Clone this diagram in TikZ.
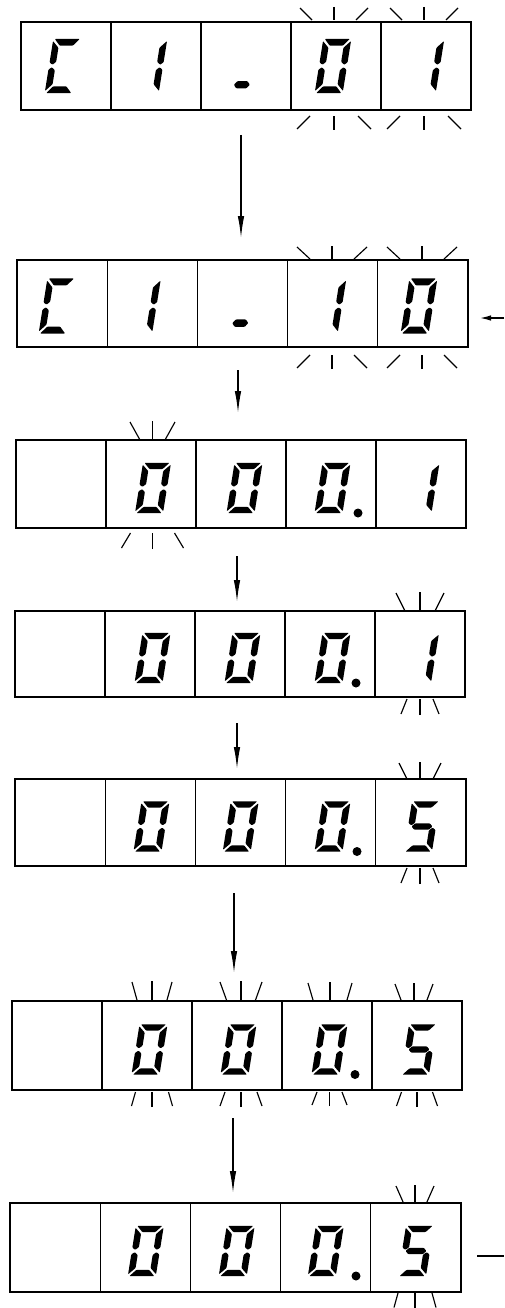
\documentclass[tikz,border=0pt]{standalone}
\usetikzlibrary{arrows.meta}

\tikzset{
  cell/.style={draw, rectangle, line width=1.2pt, inner sep=0pt, outer sep=0pt},
  segfill/.style={fill=black, rounded corners=0.8pt},
  ray/.style={line width=1.15pt},
  flow/.style={line width=1.3pt, -{Latex[length=22pt,width=6.5pt]}},
  sideflow/.style={line width=1.3pt, -{Latex[length=11pt,width=5.5pt]}},
  plainline/.style={line width=1.3pt},
}

% seven-segment pieces, drawn around the digit centre (y grows downwards)
\newcommand\segA{\fill[segfill] (-12.5,-26) -- (12.5,-26) -- (6.5,-19.5) -- (-6.5,-19.5) -- cycle;}
\newcommand\segD{\fill[segfill] (-12.5,26) -- (12.5,26) -- (6.5,19.5) -- (-6.5,19.5) -- cycle;}
\newcommand\segF{\fill[segfill] (-14,-24) -- (-7.5,-17.5) -- (-7.5,-4) -- (-10.8,-1.2) -- (-14,-3.5) -- cycle;}
\newcommand\segE{\fill[segfill] (-14,24) -- (-7.5,17.5) -- (-7.5,4) -- (-10.8,1.2) -- (-14,3.5) -- cycle;}
\newcommand\segB{\fill[segfill] (14,-24) -- (7.5,-17.5) -- (7.5,-4) -- (10.8,-1.2) -- (14,-3.5) -- cycle;}
\newcommand\segC{\fill[segfill] (14,24) -- (7.5,17.5) -- (7.5,4) -- (10.8,1.2) -- (14,3.5) -- cycle;}
\newcommand\segG{\fill[segfill] (-10.5,0) -- (-7.2,-3.3) -- (7.2,-3.3) -- (10.5,0) -- (7.2,3.3) -- (-7.2,3.3) -- cycle;}
\newcommand\segDash{\fill[segfill] (-8,19) -- (-5,15.5) -- (5,15.5) -- (8,19) -- (5,22.5) -- (-5,22.5) -- cycle;}

\newcommand\digZero{\segA\segB\segC\segD\segE\segF}
\newcommand\digOne{\segB\segC}
\newcommand\digFive{\segA\segF\segG\segC\segD}
\newcommand\digCee{\segA\segF\segE\segD}

% italic LCD character: [height scale]{x}{y}{segments}
\newcommand\lcd[4][1]{\begin{scope}[shift={(#2,#3)},xslant=0.16,yscale=#1]#4\end{scope}}

% blink marks: centre x, box edge y, outer dx, inner dx, length, gap
\newcommand\raysup[6]{%
  \draw[ray] ({#1-#3},{#2-#6-#5}) -- ({#1-#4},{#2-#6});
  \draw[ray] (#1,{#2-#6-#5-1}) -- (#1,{#2-#6});
  \draw[ray] ({#1+#3},{#2-#6-#5}) -- ({#1+#4},{#2-#6});}
\newcommand\raysdown[6]{%
  \draw[ray] ({#1-#3},{#2+#6+#5}) -- ({#1-#4},{#2+#6});
  \draw[ray] (#1,{#2+#6+#5+1}) -- (#1,{#2+#6});
  \draw[ray] ({#1+#3},{#2+#6+#5}) -- ({#1+#4},{#2+#6});}

% a display of five cells: name, left x, centre y, height, cell width
\newcommand\displayrow[5]{%
  \foreach \i in {1,...,5}{%
    \node[cell, minimum width=#5, minimum height=#4] (#1c\i) at ({#2+#5*(\i-0.5)}, #3) {};}}

\begin{document}
\begin{tikzpicture}[x=1pt, y=-1pt]
\useasboundingbox (0,0) rectangle (504,1308);
\fill[white] (0,0) rectangle (504,1308);

% ---- display 1: C1-01
\displayrow{ra}{21}{66}{88}{90}
\lcd[1.04]{63}{66}{\digCee}
\lcd[1.04]{149}{66}{\digOne}
\lcd[1.04]{245}{65}{\segDash}
\lcd[1.04]{333}{66}{\digZero}
\lcd[1.04]{426}{66}{\digOne}
\raysup{334}{22}{34}{22}{12}{2}
\raysup{424}{22}{34}{22}{12}{2}
\raysdown{334}{110}{37}{24}{13}{6}
\raysdown{424}{110}{37}{24}{13}{6}

\coordinate (a1s) at (241,135);
\coordinate (a1e) at (241,238);
\draw[flow] (a1s) -- (a1e);

% ---- display 2: C1-10
\displayrow{rb}{17}{303.5}{87}{90.2}
\lcd[1.06]{57}{306}{\digCee}
\lcd[1.06]{142.5}{306}{\digOne}
\lcd[1.06]{243.5}{303}{\segDash}
\lcd[1.06]{328}{306}{\digOne}
\lcd[1.06]{419}{306}{\digZero}
\raysup{332}{260}{35}{22}{12}{1}
\raysup{422}{260}{35}{22}{12}{1}
\raysdown{332}{347}{35}{22}{13}{8}
\raysdown{422}{347}{35}{22}{13}{8}

\coordinate (sbs) at (504,318);
\coordinate (sbe) at (480,318);
\draw[sideflow] (sbs) -- (sbe);

\coordinate (a2s) at (238,370);
\coordinate (a2e) at (238,413);
\draw[flow] (a2s) -- (a2e);

% ---- display 3: 000.1, hundreds digit blinking
\displayrow{rc}{16}{484}{88}{90}
\lcd[0.97]{153}{488}{\digZero}
\lcd[0.97]{244.5}{488}{\digZero}
\lcd[0.97]{332.5}{488}{\digZero}
\fill (358,513) circle (4.5);
\lcd[0.97]{421.5}{488}{\digOne}
\raysup{152.5}{440}{22.5}{12.5}{18}{0}
\raysdown{152.5}{528}{31}{22}{15}{5}

\coordinate (a3s) at (237,556);
\coordinate (a3e) at (237,602);
\draw[flow] (a3s) -- (a3e);

% ---- display 4: 000.1, last digit blinking
\displayrow{rd}{15}{654}{86}{90}
\lcd[0.97]{152.5}{658}{\digZero}
\lcd[0.97]{242.5}{658}{\digZero}
\lcd[0.97]{332.5}{658}{\digZero}
\fill (356,683) circle (4.5);
\lcd[0.97]{421}{658}{\digOne}
\raysup{420}{611}{24}{15}{18}{0}
\raysdown{420}{697}{19}{13}{15}{2}

\coordinate (a4s) at (237,723);
\coordinate (a4e) at (237,769);
\draw[flow] (a4s) -- (a4e);

% ---- display 5: 000.5, last digit blinking
\displayrow{re}{15}{822.5}{87}{90.2}
\lcd[0.97]{151.5}{826.5}{\digZero}
\lcd[0.97]{240.7}{826.5}{\digZero}
\lcd[0.97]{332.5}{826.5}{\digZero}
\fill (357,851.5) circle (4.5);
\lcd[0.97]{422}{826.5}{\digFive}
\raysup{420}{779}{21}{13}{16}{0}
\raysdown{420}{866}{19}{13}{15}{2}

\coordinate (a5s) at (234,893);
\coordinate (a5e) at (234,973);
\draw[flow] (a5s) -- (a5e);

% ---- display 6: 000.5, all digits blinking
\displayrow{rf}{12}{1045.5}{89}{90}
\lcd[0.97]{149.5}{1049.5}{\digZero}
\lcd[0.97]{238.5}{1049.5}{\digZero}
\lcd[0.97]{329.5}{1049.5}{\digZero}
\fill (355,1074.5) circle (4.5);
\lcd[0.97]{419}{1049.5}{\digFive}
\raysup{152}{1001}{20}{15}{18}{1}
\raysup{241}{1001}{21}{14.5}{18}{1}
\raysup{330}{1001}{22}{17}{17}{1}
\raysup{414}{1001}{19}{13}{16}{1}
\raysdown{152}{1090}{20.5}{16.5}{14}{2}
\raysdown{241}{1090}{21}{16}{14}{2}
\raysdown{329.5}{1090}{17.5}{12.5}{13}{2}
\raysdown{417}{1090}{20.5}{15.5}{14}{2}

\coordinate (a6s) at (233,1118);
\coordinate (a6e) at (233,1193);
\draw[flow] (a6s) -- (a6e);

% ---- display 7: 000.5, last digit blinking
\displayrow{rg}{10}{1247.5}{89}{90.2}
\lcd[0.97]{145.8}{1251}{\digZero}
\lcd[0.97]{236.7}{1251}{\digZero}
\lcd[0.97]{325.8}{1251}{\digZero}
\fill (356,1276) circle (4.5);
\lcd[0.97]{416}{1251}{\digFive}
\raysup{415}{1203}{19}{11.5}{17}{0}
\raysdown{415}{1292}{21}{17}{14.5}{1}

\coordinate (g7s) at (477,1256);
\coordinate (g7e) at (504,1256);
\draw[plainline] (g7s) -- (g7e);

\end{tikzpicture}
\end{document}
